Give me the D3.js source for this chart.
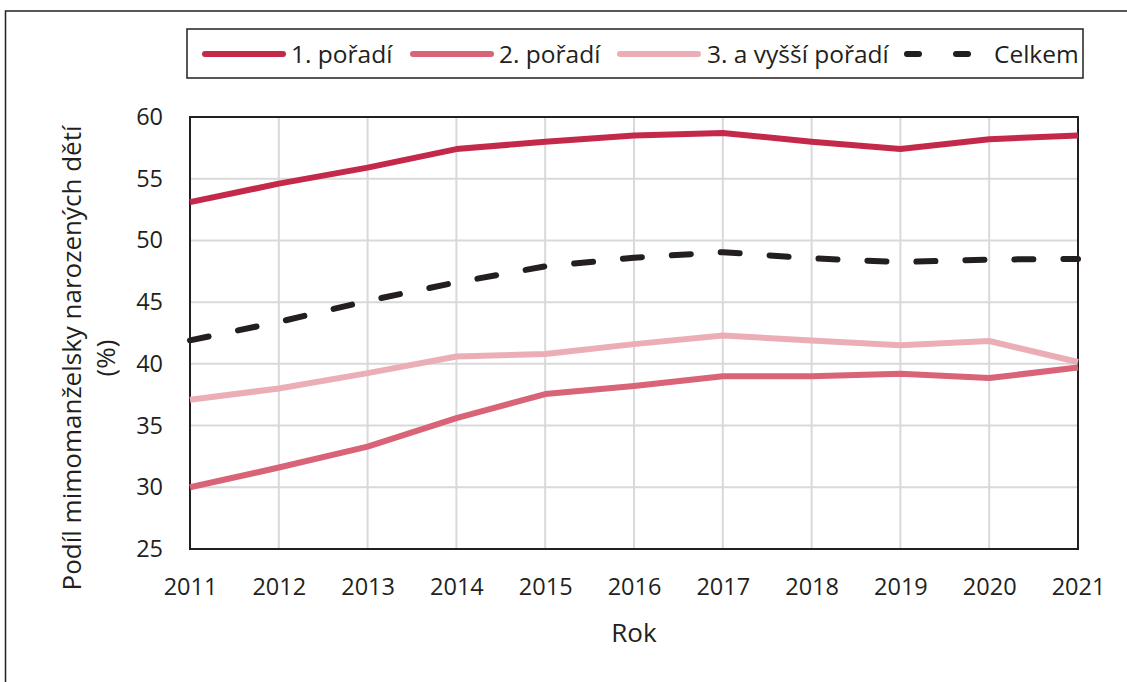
<!DOCTYPE html>
<html><head><meta charset="utf-8">
<script src="https://cdn.jsdelivr.net/npm/d3@7"></script>
<style>
body{margin:0;background:#fff;}
svg{display:block;font-family:"Open Sans","Liberation Sans",sans-serif;}
</style></head>
<body>
<svg id="c" width="1127" height="682"></svg>
<script>
const years = [2011,2012,2013,2014,2015,2016,2017,2018,2019,2020,2021];
const first  = [53.1,54.6,55.9,57.4,58.0,58.5,58.7,58.0,57.4,58.2,58.5];
const second = [30.0,31.6,33.3,35.6,37.55,38.2,39.0,39.0,39.2,38.85,39.7];
const third  = [37.1,38.0,39.25,40.6,40.8,41.6,42.3,41.9,41.5,41.85,40.15];
const total  = [41.9,43.4,45.1,46.6,47.9,48.6,49.05,48.55,48.25,48.45,48.5];
const yTicks = [25,30,35,40,45,50,55,60];
const seriesNames = ["1. pořadí","2. pořadí","3. a vyšší pořadí","Celkem"];
const seriesColors = ["#C4294A","#D96377","#EBAEB7","#231F20"];
const seriesData = [first, second, third, total];

const svg = d3.select("#c");
const m = {l:190, r:1078, t:117, b:549};
const x = d3.scaleLinear().domain([2011,2021]).range([m.l,m.r]);
const y = d3.scaleLinear().domain([25,60]).range([m.b,m.t]);

// outer frame
svg.append("rect").attr("x",5.5).attr("y",11).attr("width",1140).attr("height",700)
  .attr("fill","none").attr("stroke","#231F20").attr("stroke-width",1.5);

// grid
svg.append("g").selectAll("line").data(yTicks).join("line")
  .attr("x1",m.l).attr("x2",m.r).attr("y1",d=>y(d)).attr("y2",d=>y(d))
  .attr("stroke","#D9D9D9").attr("stroke-width",2);
svg.append("g").selectAll("line").data(years).join("line")
  .attr("y1",m.t).attr("y2",m.b).attr("x1",d=>x(d)).attr("x2",d=>x(d))
  .attr("stroke","#D9D9D9").attr("stroke-width",2);

// plot frame
svg.append("rect").attr("x",m.l).attr("y",m.t).attr("width",m.r-m.l).attr("height",m.b-m.t)
  .attr("fill","none").attr("stroke","#231F20").attr("stroke-width",2);

// axes
const xAxis = svg.append("g").attr("transform",`translate(0,${m.b})`)
  .call(d3.axisBottom(x).tickValues(years).tickFormat(d3.format("d")).tickSize(0).tickPadding(29));
xAxis.select(".domain").remove();
xAxis.selectAll("text").attr("font-size",23.5).attr("fill","#231F20").attr("font-family","Open Sans");
const yAxis = svg.append("g").attr("transform",`translate(${m.l},0)`)
  .call(d3.axisLeft(y).tickValues(yTicks).tickSize(0).tickPadding(27));
yAxis.select(".domain").remove();
yAxis.selectAll("text").attr("font-size",23.5).attr("fill","#231F20").attr("font-family","Open Sans");

// lines
const line = d3.line().x((d,i)=>x(years[i])).y(d=>y(d));
seriesData.forEach((s,k)=>{
  const p = svg.append("path").datum(s).attr("d",line).attr("fill","none")
    .attr("stroke",seriesColors[k]).attr("stroke-width",6).attr("stroke-linejoin","round");
  if(k===3){ p.attr("stroke-dasharray","19,30").attr("stroke-linecap","round"); }
});

// axis titles
svg.append("text").attr("x",634).attr("y",642).attr("text-anchor","middle")
  .attr("font-size",26).attr("fill","#231F20").text("Rok");
const yt = svg.append("text").attr("transform","translate(81,358) rotate(-90)")
  .attr("text-anchor","middle").attr("font-size",26).attr("fill","#231F20");
yt.append("tspan").attr("x",0).attr("dy",0).text("Podíl mimomanželsky narozených dětí");
yt.append("tspan").attr("x",0).attr("dy",34).text("(%)");

// legend
svg.append("rect").attr("x",187).attr("y",29).attr("width",896).attr("height",49)
  .attr("fill","#fff").attr("stroke","#231F20").attr("stroke-width",1.5);
const legX = [205,413,620,907];
const legTextX = [291,499,707,994];
seriesNames.forEach((n,k)=>{
  const l = svg.append("line").attr("x1",legX[k]).attr("x2",legX[k]+78).attr("y1",54).attr("y2",54)
    .attr("stroke",seriesColors[k]).attr("stroke-width",6).attr("stroke-linecap","round");
  if(k===3) l.attr("x2",legX[k]+76).attr("stroke-dasharray","12,37");
  svg.append("text").attr("x",legTextX[k]).attr("y",63).attr("font-size",24.5)
    .attr("fill","#231F20").text(n);
});
</script>
</body></html>
